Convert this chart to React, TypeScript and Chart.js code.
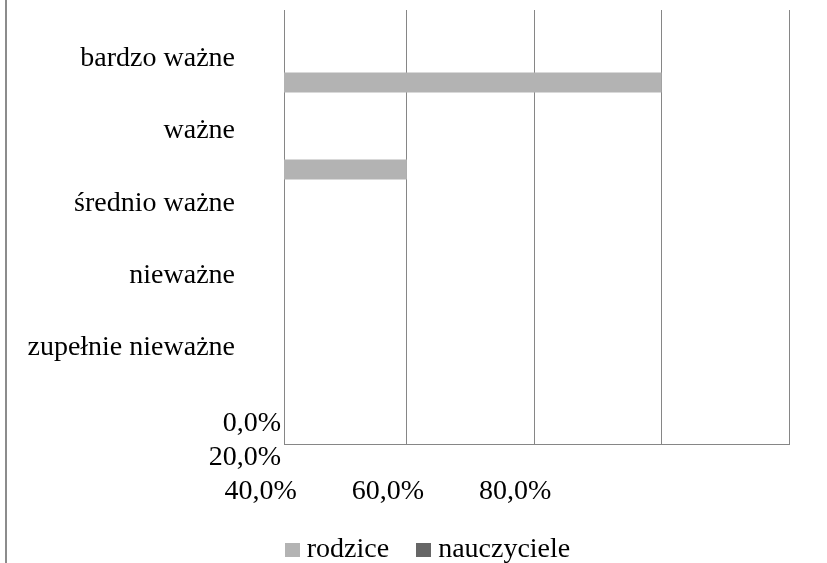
import React, { useEffect, useRef } from 'react';
import { Chart, registerables } from 'chart.js';

Chart.register(...registerables);

// ---- data ----
const CATEGORIES = ['bardzo ważne', 'ważne', 'średnio ważne', 'nieważne', 'zupełnie nieważne'];
const SERIES_NAMES = ['rodzice', 'nauczyciele'];
const RODZICE = [60, 20, 0, 0, 0];
const NAUCZYCIELE = [0, 0, 0, 0, 0];
const TICK_VALUES = [0, 20, 40, 60, 80];
const TICK_LABELS = ['0,0%', '20,0%', '40,0%', '60,0%', '80,0%'];

// ---- styles ----
const FONT = "'Liberation Serif', 'Times New Roman', serif";
const FONT_SIZE = 28;
const TEXT = '#000000';
const GRID = '#868686';
const COLORS = ['#b3b3b3', '#666666'];

function swatch(color: string) {
  const c = document.createElement('canvas');
  c.width = 15;
  c.height = 14;
  const g = c.getContext('2d')!;
  g.fillStyle = color;
  g.fillRect(0, 0, 15, 14);
  return c;
}

const xTickLabels = {
  id: 'xTickLabels',
  afterDraw(chart: any) {
    const { ctx, chartArea, scales } = chart;
    const xs = scales.x;
    ctx.save();
    ctx.font = `${FONT_SIZE}px ${FONT}`;
    ctx.fillStyle = TEXT;
    ctx.textBaseline = 'alphabetic';
    TICK_LABELS.forEach((label, i) => {
      if (i < 2) {
        ctx.textAlign = 'right';
        ctx.fillText(label, chartArea.left - 3, chartArea.bottom - 13 + i * 34);
      } else {
        ctx.textAlign = 'center';
        ctx.fillText(label, xs.getPixelForValue(TICK_VALUES[i - 2]) - 19, chartArea.bottom + 55);
      }
    });
    ctx.restore();
  },
};

export default function App() {
  const ref = useRef<HTMLCanvasElement>(null);

  useEffect(() => {
    if (!ref.current) return;
    const swatches = COLORS.map(swatch);
    const barStyle = {
      borderWidth: 0,
      categoryPercentage: 1.345,
      barPercentage: 0.3425,
      clip: 0,
    };
    const chart = new Chart(ref.current, {
      type: 'bar',
      data: {
        labels: CATEGORIES,
        datasets: [
          { label: SERIES_NAMES[0], data: RODZICE, backgroundColor: COLORS[0], order: 1, ...barStyle },
          { label: SERIES_NAMES[1], data: NAUCZYCIELE, backgroundColor: COLORS[1], order: 0, ...barStyle },
        ] as any,
      },
      options: {
        indexAxis: 'y',
        responsive: false,
        devicePixelRatio: 1,
        animation: false,
        layout: { padding: { left: 10, right: -25, top: 10, bottom: -11 } },
        scales: {
          x: {
            type: 'linear',
            position: 'bottom',
            min: 0.7,
            max: 80,
            ticks: { display: false, stepSize: 20 },
            grid: { color: GRID, lineWidth: 1, drawTicks: false },
            border: { color: GRID, width: 1 },
            afterFit: (s: any) => {
              s.height = 58;
            },
          },
          y: {
            type: 'category',
            display: false,
            offset: true,
          },
          yl: {
            type: 'category',
            position: 'left',
            labels: [...CATEGORIES, ''],
            offset: true,
            grid: { display: false, drawTicks: false },
            border: { display: false },
            ticks: {
              font: { family: FONT, size: FONT_SIZE },
              color: TEXT,
              padding: 49,
              labelOffset: 12.5,
              autoSkip: false,
            },
            afterFit: (s: any) => {
              s.width = 274;
              s.paddingTop = 0;
              s.paddingBottom = 0;
            },
          },
          yr: {
            type: 'category',
            position: 'right',
            grid: { display: false, drawTicks: false },
            border: { display: false },
            ticks: { display: false },
            afterFit: (s: any) => {
              s.width = 63;
              s.paddingTop = 0;
              s.paddingBottom = 0;
            },
          },
        } as any,
        plugins: {
          tooltip: { enabled: false },
          legend: {
            display: true,
            position: 'bottom',
            align: 'center',
            labels: {
              font: { family: FONT, size: FONT_SIZE },
              color: TEXT,
              usePointStyle: true,
              pointStyleWidth: 1,
              padding: 34,
              generateLabels: (c: any) => {
                const items = (Chart.defaults.plugins.legend.labels as any).generateLabels(c);
                items.sort((a: any, b: any) => a.datasetIndex - b.datasetIndex);
                return items.map((it: any) => ({ ...it, pointStyle: swatches[it.datasetIndex] }));
              },
            },
          },
        },
      } as any,
      plugins: [xTickLabels],
    });
    return () => chart.destroy();
  }, []);

  return (
    <div style={{ position: 'fixed', left: 0, top: 0, width: 827, height: 563, background: '#ffffff' }}>
      <canvas ref={ref} width={827} height={563} style={{ display: 'block' }} />
      <div style={{ position: 'absolute', left: 5, top: 0, width: 2, height: 563, background: '#8c8c8c' }} />
    </div>
  );
}
